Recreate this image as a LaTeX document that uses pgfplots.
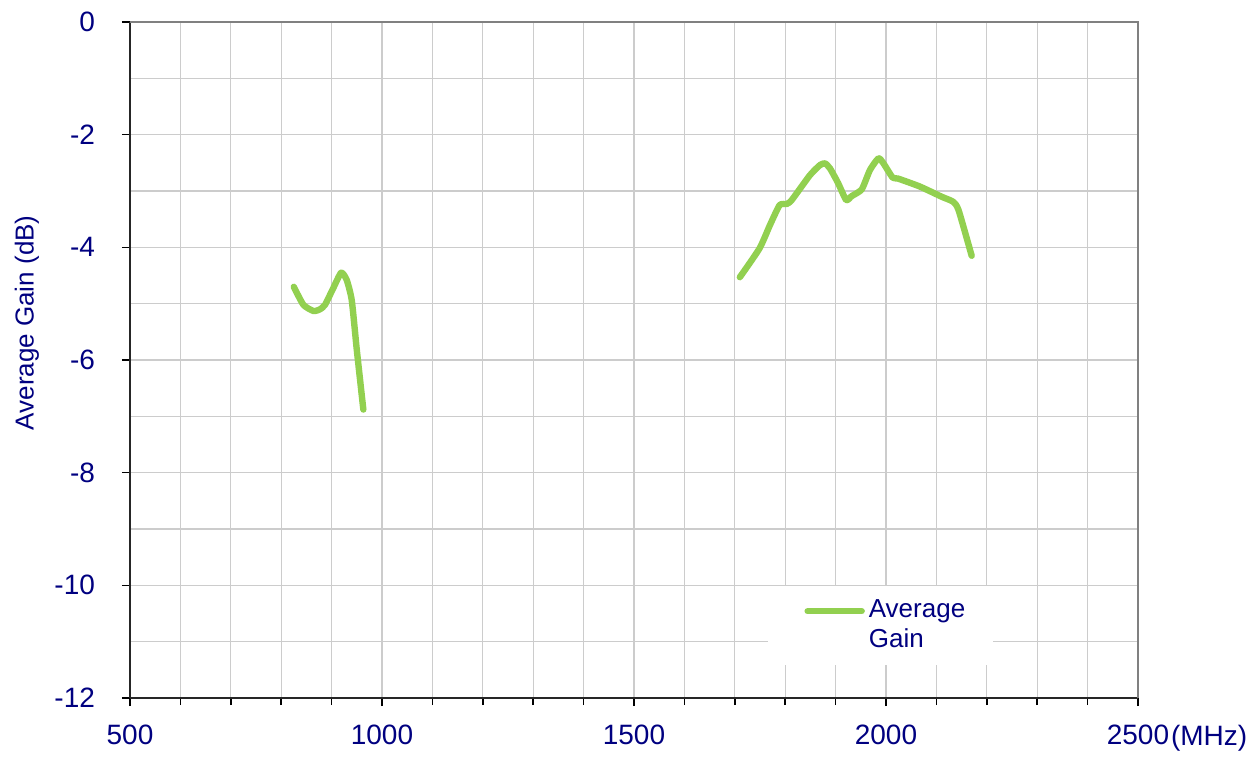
\documentclass[border=0pt]{standalone}
\usepackage{fontspec}
\setmainfont{Liberation Sans}
\usepackage{pgfplots}
\pgfplotsset{compat=1.18}
\definecolor{navytext}{RGB}{0,0,128}
\definecolor{gaingreen}{RGB}{146,208,80}
\begin{document}
\begin{tikzpicture}
\begin{axis}[
  scale only axis,
  width=504pt, height=338pt,
  xmin=500, xmax=2500, ymin=-12, ymax=0,
  clip=false,
  xtick={500,1000,...,2500},
  minor x tick num=4,
  ytick={-12,-10,...,0},
  minor y tick num=1,
  grid=both,
  major grid style={draw=black!20, line width=0.6pt},
  minor grid style={draw=black!20, line width=0.6pt},
  minor y tick style={draw=none},
  tick pos=left, tick align=outside,
  major tick length=4pt, minor tick length=3.5pt,
  tick style={black, line width=0.8pt},
  axis x line*=bottom, axis y line*=left,
  axis line style={black!85, line width=1pt, -},
  /pgf/number format/assume math mode=true,
  /pgf/number format/1000 sep={},
  ticklabel style={font=\fontsize{14}{16}\selectfont, text=navytext},
  xticklabel style={yshift=-6pt},
  yticklabel style={xshift=-10pt},
  ylabel={Average Gain (dB)},
  every axis y label/.style={at={(axis description cs:0,0.555)}, xshift=-51.5pt,
    rotate=90, anchor=center, font=\fontsize{13}{15}\selectfont, text=navytext},
  legend style={at={(axis description cs:0.633,0.0488)}, anchor=south west,
    draw=none, fill=white, inner xsep=12pt, inner ysep=5pt,
    font=\fontsize{13}{15}\selectfont, text=navytext,
    cells={align=left, anchor=west}},
  legend image code/.code={\path (0pt,7pt); \draw[#1] (6pt,7pt) -- (33pt,7pt);},
]
\addplot[gaingreen, line width=3.2pt, line join=round, line cap=round, smooth, tension=0.35] coordinates {
(825,-4.70) (844,-5.02) (864,-5.13) (877,-5.10) (887,-5.02) (903,-4.73)
(919,-4.45) (930,-4.58) (940,-4.94) (950,-5.82) (963,-6.88)
};
\addlegendentry{Average\\Gain}
\addplot[gaingreen, line width=3.2pt, line join=round, line cap=round, smooth, tension=0.35, forget plot] coordinates {
(1710,-4.53) (1749,-4.02) (1770,-3.60) (1789,-3.25) (1803,-3.23) (1813,-3.16)
(1849,-2.72) (1869,-2.54) (1879,-2.51) (1889,-2.60) (1905,-2.86) (1921,-3.16)
(1932,-3.09) (1952,-2.97) (1968,-2.63) (1985,-2.42) (1995,-2.51) (2013,-2.76)
(2024,-2.78) (2067,-2.92) (2110,-3.10) (2133,-3.19) (2144,-3.34) (2170,-4.15)
};
\draw[black!50, line width=1pt] (rel axis cs:0,1) -- (rel axis cs:1,1) -- (rel axis cs:1,0);
\node[anchor=base west, text=navytext, font=\fontsize{14}{16}\selectfont]
  at ([yshift=-23.5pt, xshift=13pt]rel axis cs:1,0) {(MHz)};
\end{axis}
\pgfresetboundingbox
\useasboundingbox (-65pt,-29pt) rectangle (564.5pt,349pt);
\end{tikzpicture}
\end{document}
